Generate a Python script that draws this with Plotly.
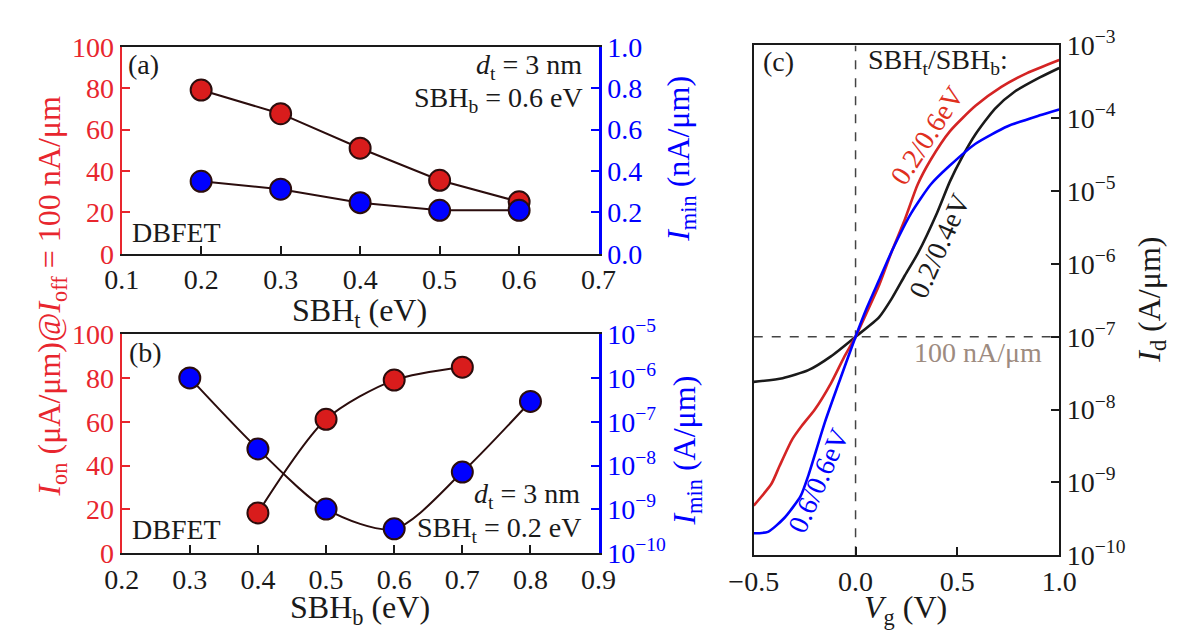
import plotly.graph_objects as go

# ---------------- data ----------------
# panel (a): SBH_b = 0.6 eV, sweep SBH_t
sbh_t = [0.2, 0.3, 0.4, 0.5, 0.6]
ion_a = [79.1, 67.7, 51.0, 35.5, 25.1]          # uA/um
imin_a = [0.350, 0.312, 0.247, 0.210, 0.210]     # nA/um

# panel (b): SBH_t = 0.2 eV, sweep SBH_b
sbh_b_on = [0.4, 0.5, 0.6, 0.7]
ion_b = [18.4, 61.1, 79.0, 84.9]                 # uA/um
sbh_b_min = [0.3, 0.4, 0.5, 0.6, 0.7, 0.8]
imin_b = [1.0e-6, 2.4e-8, 1.02e-9, 3.6e-10, 7.1e-9, 2.9e-7]  # A/um

# panel (c): transfer curves
vg_red = [-0.50, -0.413, -0.374, -0.311, -0.263, -0.200, -0.121, -0.058, 0.0, 0.053, 0.116,
          0.179, 0.242, 0.305, 0.369, 0.463, 0.589, 0.716, 0.842, 1.0]
log_red = [-9.32, -9.02, -8.78, -8.41, -8.22, -8.00, -7.64, -7.29, -7.0, -6.68, -6.29,
           -5.82, -5.39, -4.91, -4.57, -4.18, -3.83, -3.57, -3.38, -3.20]
vg_black = [-0.50, -0.358, -0.232, -0.121, 0.0, 0.116, 0.179, 0.242, 0.305, 0.40, 0.463,
            0.526, 0.589, 0.684, 0.779, 0.905, 1.0]
log_black = [-7.62, -7.57, -7.46, -7.27, -7.0, -6.73, -6.47, -6.16, -5.86, -5.30, -4.87,
             -4.52, -4.22, -3.87, -3.64, -3.44, -3.31]
vg_blue = [-0.50, -0.43, -0.35, -0.27, -0.23, -0.15, -0.074, 0.0, 0.053, 0.116, 0.179,
           0.274, 0.369, 0.463, 0.589, 0.747, 0.905, 1.0]
log_blue = [-9.70, -9.68, -9.49, -9.19, -8.89, -8.17, -7.57, -7.0, -6.62, -6.22, -5.82,
            -5.30, -4.91, -4.65, -4.35, -4.11, -3.96, -3.88]

i_off = 1e-7
vg_zero = 0.0

xticks_a = [0.1, 0.2, 0.3, 0.4, 0.5, 0.6, 0.7]
xticks_b = [0.2, 0.3, 0.4, 0.5, 0.6, 0.7, 0.8, 0.9]
xticks_c = [-0.5, 0.0, 0.5, 1.0]
xticktext_c = ["\u22120.5", "0.0", "0.5", "1.0"]
yticks_left = [0, 20, 40, 60, 80, 100]
yticks_a2 = [0.0, 0.2, 0.4, 0.6, 0.8, 1.0]
exps_b = [-10, -9, -8, -7, -6, -5]
exps_c = [-10, -9, -8, -7, -6, -5, -4, -3]

# ---------------- style ----------------
W, H = 1180, 634
FONT = "Liberation Serif"
FS = 28      # tick labels
FA = 28      # in-plot texts
FT = 32      # axis titles
RED_AX = "#e8262e"
RED_MK = "#d91c1c"
RED_LN = "#d42424"
BLUE = "#0000ff"
BLACK = "#1a1a1a"
LINK = "#2b0d0d"


def px(x):
    return x / W


def py(y):
    return 1 - y / H


fig = go.Figure()

mk_red = dict(size=21, color=RED_MK, line=dict(color=LINK, width=2))
mk_blue = dict(size=21, color=BLUE, line=dict(color=LINK, width=2))
ln = dict(color=LINK, width=2)

# panel (a)
fig.add_trace(go.Scatter(x=sbh_t, y=ion_a, mode="lines+markers", marker=mk_red, line=ln,
                         xaxis="x", yaxis="y", showlegend=False))
fig.add_trace(go.Scatter(x=sbh_t, y=imin_a, mode="lines+markers", marker=mk_blue, line=ln,
                         xaxis="x", yaxis="y2", showlegend=False))
# panel (b)
fig.add_trace(go.Scatter(x=sbh_b_on, y=ion_b, mode="lines+markers", marker=mk_red,
                         line=dict(color=LINK, width=2, shape="spline", smoothing=0.8),
                         xaxis="x3", yaxis="y3", showlegend=False))
fig.add_trace(go.Scatter(x=sbh_b_min, y=imin_b, mode="lines+markers", marker=mk_blue,
                         line=dict(color=LINK, width=2, shape="spline", smoothing=0.8),
                         xaxis="x3", yaxis="y4", showlegend=False))

# panel (c) reference lines
fig.add_trace(go.Scatter(x=[xticks_c[0], xticks_c[-1]], y=[i_off, i_off], mode="lines",
                         line=dict(color="#444444", width=1.5, dash="dash"),
                         xaxis="x5", yaxis="y5", showlegend=False))
fig.add_trace(go.Scatter(x=[vg_zero, vg_zero], y=[10.0 ** exps_c[0], 10.0 ** exps_c[-1]], mode="lines",
                         line=dict(color="#444444", width=1.5, dash="dash"),
                         xaxis="x5", yaxis="y5", showlegend=False))
# curves
for vg, lg, col in [(vg_black, log_black, BLACK), (vg_red, log_red, RED_LN), (vg_blue, log_blue, BLUE)]:
    fig.add_trace(go.Scatter(x=vg, y=[10.0 ** v for v in lg], mode="lines",
                             line=dict(color=col, width=2.6, shape="spline", smoothing=0.6),
                             xaxis="x5", yaxis="y5", showlegend=False))

tickfont = dict(family=FONT, size=FS, color=BLACK)
common_x = dict(showgrid=False, zeroline=False, showline=True, linecolor=BLACK, linewidth=2,
                mirror=True, ticks="inside", ticklen=8, tickwidth=1.5, tickcolor=BLACK,
                tickfont=tickfont)

pow_text_b = ["10<sup>\u2212%d</sup>" % (-e) for e in exps_b]
pow_text_c = ["10<sup>\u2212%d</sup>" % (-e) for e in exps_c]

fig.update_layout(
    width=W, height=H, margin=dict(l=0, r=0, t=0, b=0),
    paper_bgcolor="white", plot_bgcolor="white",
    font=dict(family=FONT, size=FS, color=BLACK),
    xaxis=dict(common_x, domain=[px(92), px(587)], anchor="y", range=[0.1, 0.7],
               tickvals=xticks_a, ticktext=["%.1f" % v for v in xticks_a]),
    yaxis=dict(domain=[py(240), py(21)], anchor="x", range=[0, 100], showgrid=False, zeroline=False,
               showline=True, linecolor=RED_AX, linewidth=2, ticks="inside", ticklen=8,
               tickwidth=1.5, tickcolor=RED_AX, tickvals=yticks_left,
               tickfont=dict(family=FONT, size=FS, color=RED_AX)),
    yaxis2=dict(overlaying="y", side="right", anchor="x", range=[0, 1], showgrid=False,
                zeroline=False, showline=True, linecolor=BLUE, linewidth=3, ticks="inside",
                ticklen=8, tickwidth=1.5, tickcolor=BLUE, tickvals=yticks_a2,
                ticktext=["%.1f" % v for v in yticks_a2],
                tickfont=dict(family=FONT, size=FS, color=BLUE)),
    xaxis3=dict(common_x, domain=[px(92), px(587)], anchor="y3", range=[0.2, 0.9],
                tickvals=xticks_b, ticktext=["%.1f" % v for v in xticks_b]),
    yaxis3=dict(domain=[py(557), py(325)], anchor="x3", range=[0, 100], showgrid=False,
                zeroline=False, showline=True, linecolor=RED_AX, linewidth=2, ticks="inside",
                ticklen=8, tickwidth=1.5, tickcolor=RED_AX, tickvals=yticks_left,
                tickfont=dict(family=FONT, size=FS, color=RED_AX)),
    yaxis4=dict(overlaying="y3", side="right", anchor="x3", type="log", range=[-10, -5],
                showgrid=False, zeroline=False, showline=True, linecolor=BLUE, linewidth=3,
                ticks="inside", ticklen=8, tickwidth=1.5, tickcolor=BLUE,
                tickvals=[10.0 ** e for e in exps_b], ticktext=pow_text_b,
                tickfont=dict(family=FONT, size=FS, color=BLUE)),
    xaxis5=dict(common_x, domain=[px(748), px(1065)], anchor="y5", range=[-0.5, 1.0],
                tickvals=xticks_c, ticktext=xticktext_c),
    yaxis5=dict(domain=[py(559), py(19.5)], anchor="x5", side="right", type="log",
                range=[-10, -3], showgrid=False, zeroline=False, showline=True, mirror=True,
                linecolor=BLACK, linewidth=2, ticks="inside", ticklen=8, tickwidth=1.5,
                tickcolor=BLACK, tickvals=[10.0 ** e for e in exps_c], ticktext=pow_text_c,
                tickfont=tickfont),
)


def ann(text, x, y, xanchor="center", yanchor="middle", color=BLACK, size=FA, angle=0):
    fig.add_annotation(text=text, x=px(x), y=py(y), xref="paper", yref="paper",
                       xanchor=xanchor, yanchor=yanchor, showarrow=False, textangle=angle,
                       font=dict(family=FONT, size=size, color=color))


# panel (a) texts
ann("(a)", 97, 40, xanchor="left")
ann("<i>d</i><sub>t</sub> = 3 nm", 572, 42, xanchor="right")
ann("SBH<sub>b</sub> = 0.6 eV", 573, 77, xanchor="right")
ann("DBFET", 101, 218, xanchor="left")
# panel (b) texts
ann("(b)", 98, 345, xanchor="left")
ann("<i>d</i><sub>t</sub> = 3 nm", 570, 496, xanchor="right")
ann("SBH<sub>t</sub> = 0.2 eV", 571, 532, xanchor="right")
ann("DBFET", 101, 532, xanchor="left")
# panel (c) texts
ann("(c)", 756, 37, xanchor="left")
ann("SBH<sub>t</sub>/SBH<sub>b</sub>:", 864, 37, xanchor="left")
ann("100 nA/\u03bcm", 912, 345, xanchor="left", color="#9d8b80")
ann("0.2/0.6eV", 928, 115, color="#e0301e", angle=-57)
ann("0.2/0.4eV", 940, 232, color=BLACK, angle=-66)
ann("0.6/0.6eV", 815, 480, color=BLUE, angle=-66)

# axis titles
ann("<i>I</i><sub>on</sub> (\u03bcA/\u03bcm)@<i>I</i><sub>off</sub> = 100 nA/\u03bcm", 19, 285,
    color=RED_AX, size=FT, angle=-90)
ann("<i>I</i><sub>min</sub> (nA/\u03bcm)", 672, 140, color=BLUE, size=FT, angle=-90)
ann("<i>I</i><sub>min</sub> (A/\u03bcm)", 678, 448, color=BLUE, size=FT, angle=-90)
ann("<i>I</i><sub>d</sub> (A/\u03bcm)", 1160, 289, color=BLACK, size=FT, angle=-90)
ann("SBH<sub>t</sub> (eV)", 339, 302, size=FT)
ann("SBH<sub>b</sub> (eV)", 339, 617, size=FT)
ann("<i>V</i><sub>g</sub> (V)", 906, 617, size=FT)

fig.write_html("out.html")
